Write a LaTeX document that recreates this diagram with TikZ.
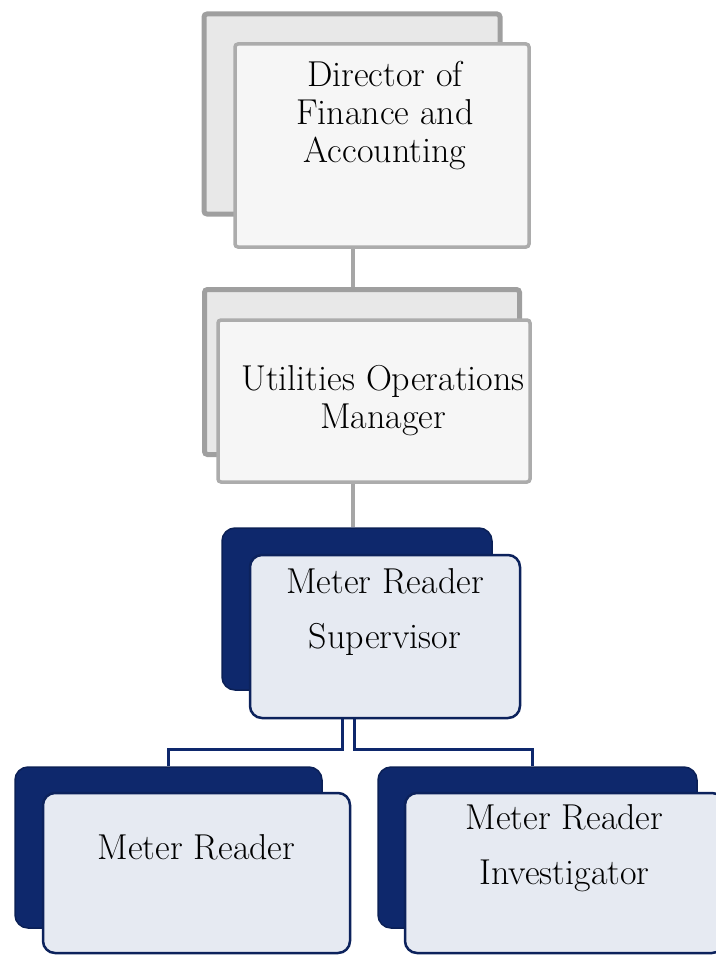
\documentclass[tikz,border=0pt]{standalone}
\usetikzlibrary{positioning,backgrounds}
\definecolor{navy}{RGB}{14,40,108}
\definecolor{paleblue}{RGB}{230,234,242}
\begin{document}
\begin{tikzpicture}[x=1pt,y=-1pt,thick,
    greyback/.style={rectangle,rounded corners=3pt,fill=gray!18,draw=gray!75,line width=5pt,inner sep=0pt},
    greyfront/.style={rectangle,rounded corners=3pt,fill=gray!7,draw=gray!65,line width=3.5pt,inner sep=0pt},
    blueback/.style={rectangle,rounded corners=13pt,fill=navy,draw=navy!80!black,line width=1.5pt,inner sep=0pt},
    bluefront/.style={rectangle,rounded corners=12pt,fill=paleblue,draw=navy!85!black,line width=2.5pt,inner sep=0pt},
    boxtext/.style={align=center,inner sep=0pt,font=\fontsize{36}{38}\selectfont},
    widetext/.style={align=center,inner sep=0pt,font=\fontsize{36}{55}\selectfont},
    greyline/.style={draw=gray!70,line width=4pt},
    blueline/.style={draw=navy,line width=3pt}]
    \useasboundingbox (0,0) rectangle (715,955);
    % director
    \node[greyback,minimum width=296pt,minimum height=200pt] (dirB) at (352,114) {};
    \node[greyfront,minimum width=294pt,minimum height=203pt] (dirF) at (382,145.5) {};
    \node[boxtext] (dirT) at ([xshift=3pt,yshift=30pt]dirF.center) {Director of\\Finance and\\Accounting};
    % operations manager
    \node[greyback,minimum width=315pt,minimum height=165pt] (opsB) at (362,372) {};
    \node[greyfront,minimum width=312pt,minimum height=162pt] (opsF) at (374,401) {};
    \node[boxtext] (opsT) at ([xshift=9pt]opsF.center) {Utilities Operations\\Manager};
    % supervisor
    \node[blueback,minimum width=270pt,minimum height=162pt] (supB) at (357,609) {};
    \node[bluefront,minimum width=270pt,minimum height=163pt] (supF) at (385,636.5) {};
    \node[widetext] (supT) at ([yshift=24pt]supF.center) {Meter Reader\\Supervisor};
    % meter reader
    \node[blueback,minimum width=307pt,minimum height=161pt] (mrB) at (168.5,847.5) {};
    \node[bluefront,minimum width=307pt,minimum height=160pt] (mrF) at (196.5,873) {};
    \node[boxtext] (mrT) at ([yshift=26pt]mrF.center) {Meter Reader};
    % investigator
    \node[blueback,minimum width=319pt,minimum height=161pt] (invB) at (537.5,847.5) {};
    \node[bluefront,minimum width=319pt,minimum height=160pt] (invF) at (564.5,873) {};
    \node[widetext] (invT) at ([yshift=25pt]invF.center) {Meter Reader\\Investigator};
    % connectors
    \coordinate (ax) at (353,0);
    \coordinate (lx) at (342,0);
    \coordinate (rx) at (354,0);
    \coordinate (jy) at (0,749);
    \begin{pgfonlayer}{background}
        \draw[greyline] (dirF.south -| ax) -- (opsB.north -| ax);
        \draw[greyline] (opsF.south -| ax) -- (supB.north -| ax);
        \draw[blueline] (supF.south -| lx) -- (lx |- jy) -| (mrB.north);
        \draw[blueline] (supF.south -| rx) -- (rx |- jy) -| ([xshift=-5pt]invB.north);
    \end{pgfonlayer}
\end{tikzpicture}
\end{document}
